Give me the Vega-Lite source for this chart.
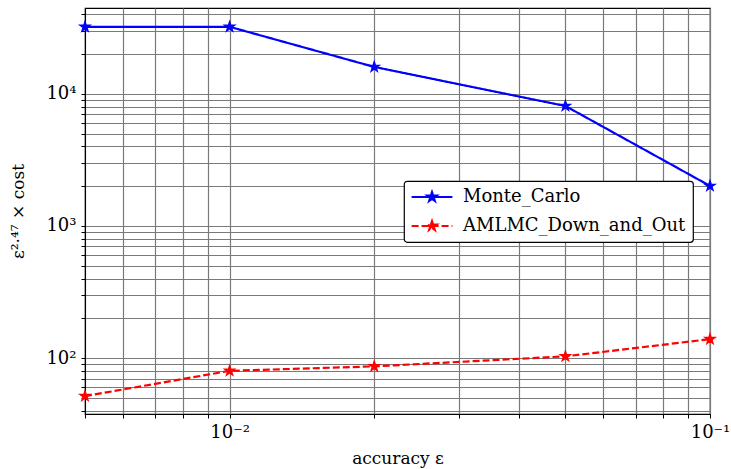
{
  "$schema": "https://vega.github.io/schema/vega-lite/v6.json",
  "width": 625,
  "height": 406,
  "autosize": {"type": "none"},
  "padding": {"left": 85, "top": 8, "right": 21, "bottom": 55},
  "background": "white",
  "config": {
    "view": {"stroke": "black", "strokeWidth": 1.2},
    "font": "DejaVu Serif",
    "axis": {
      "labelFont": "DejaVu Serif",
      "titleFont": "DejaVu Serif",
      "labelFontSize": 18,
      "titleFontSize": 17,
      "titleFontWeight": "normal",
      "labelColor": "black",
      "titleColor": "black",
      "gridColor": "#7a7a7a",
      "gridWidth": 1.2,
      "gridOpacity": 1,
      "tickColor": "black",
      "domainColor": "black",
      "tickSize": 4,
      "labelOverlap": false,
      "labelFlush": false
    },
    "legend": {
      "labelFont": "DejaVu Serif",
      "labelFontSize": 18,
      "labelColor": "black",
      "labelLimit": 400
    }
  },
  "data": {
    "values": [
      {"eps": 0.005, "cost": 32200, "series": "Monte_Carlo"},
      {"eps": 0.01, "cost": 32200, "series": "Monte_Carlo"},
      {"eps": 0.02, "cost": 16000, "series": "Monte_Carlo"},
      {"eps": 0.05, "cost": 8100, "series": "Monte_Carlo"},
      {"eps": 0.1, "cost": 2010, "series": "Monte_Carlo"},
      {"eps": 0.005, "cost": 51.5, "series": "AMLMC_Down_and_Out"},
      {"eps": 0.01, "cost": 80, "series": "AMLMC_Down_and_Out"},
      {"eps": 0.02, "cost": 86.5, "series": "AMLMC_Down_and_Out"},
      {"eps": 0.05, "cost": 103, "series": "AMLMC_Down_and_Out"},
      {"eps": 0.1, "cost": 139, "series": "AMLMC_Down_and_Out"}
    ]
  },
  "encoding": {
    "x": {
      "field": "eps",
      "type": "quantitative",
      "scale": {"type": "log", "domain": [0.005, 0.1], "nice": false},
      "axis": {
        "title": "accuracy ε",
        "values": [0.005, 0.006, 0.007, 0.008, 0.009, 0.01, 0.02, 0.03, 0.04, 0.05, 0.06, 0.07, 0.08, 0.09, 0.1],
        "labelExpr": "datum.value == 0.01 ? '10⁻²' : (datum.value == 0.1 ? '10⁻¹' : '')",
        "labelPadding": 5,
        "titlePadding": 9
      }
    },
    "y": {
      "field": "cost",
      "type": "quantitative",
      "scale": {"type": "log", "domain": [37.7, 44700], "nice": false},
      "axis": {
        "title": "ε²·⁴⁷ × cost",
        "values": [40, 50, 60, 70, 80, 90, 100, 200, 300, 400, 500, 600, 700, 800, 900, 1000, 2000, 3000, 4000, 5000, 6000, 7000, 8000, 9000, 10000, 20000, 30000, 40000],
        "labelExpr": "datum.value == 100 ? '10²' : (datum.value == 1000 ? '10³' : (datum.value == 10000 ? '10⁴' : ''))",
        "labelPadding": 5,
        "titlePadding": 18
      }
    },
    "color": {
      "field": "series",
      "type": "nominal",
      "scale": {"domain": ["Monte_Carlo", "AMLMC_Down_and_Out"], "range": ["#0000ff", "#ff0000"]},
      "legend": {
        "title": null,
        "orient": "none",
        "legendX": 319,
        "legendY": 173,
        "padding": 7,
        "strokeColor": "black",
        "fillColor": "white",
        "cornerRadius": 3,
        "symbolOffset": 12,
        "labelOffset": 22,
        "rowPadding": 10,
        "symbolType": "M-4.3,0L4.3,0M0,-1L0.225,-0.309L0.951,-0.309L0.363,0.118L0.588,0.809L0,0.382L-0.588,0.809L-0.363,0.118L-0.951,-0.309L-0.225,-0.309Z",
        "symbolSize": 90,
        "symbolStrokeWidth": 2,
        "encode": {
          "symbols": {
            "update": {
              "fill": {"scale": "color", "field": "value"},
              "stroke": {"scale": "color", "field": "value"},
              "strokeDash": {"scale": "strokeDash", "field": "value"},
              "fillOpacity": {"value": 1},
              "strokeWidth": {"value": 2.2}
            }
          },
          "legend": {"update": {"strokeWidth": {"value": 1.2}}}
        }
      }
    }
  },
  "layer": [
    {
      "mark": {"type": "line", "strokeWidth": 2.2, "clip": false},
      "encoding": {
        "strokeDash": {
          "field": "series",
          "type": "nominal",
          "scale": {"domain": ["Monte_Carlo", "AMLMC_Down_and_Out"], "range": [[1, 0], [7, 3]]},
          "legend": null
        }
      }
    },
    {
      "mark": {
        "type": "point",
        "filled": true,
        "opacity": 1,
        "size": 120,
        "strokeWidth": 1.2,
        "clip": false,
        "shape": "M0,-1L0.225,-0.309L0.951,-0.309L0.363,0.118L0.588,0.809L0,0.382L-0.588,0.809L-0.363,0.118L-0.951,-0.309L-0.225,-0.309Z"
      },
      "encoding": {
        "stroke": {
          "field": "series",
          "type": "nominal",
          "scale": {"domain": ["Monte_Carlo", "AMLMC_Down_and_Out"], "range": ["#0000ff", "#ff0000"]},
          "legend": null
        }
      }
    }
  ]
}
